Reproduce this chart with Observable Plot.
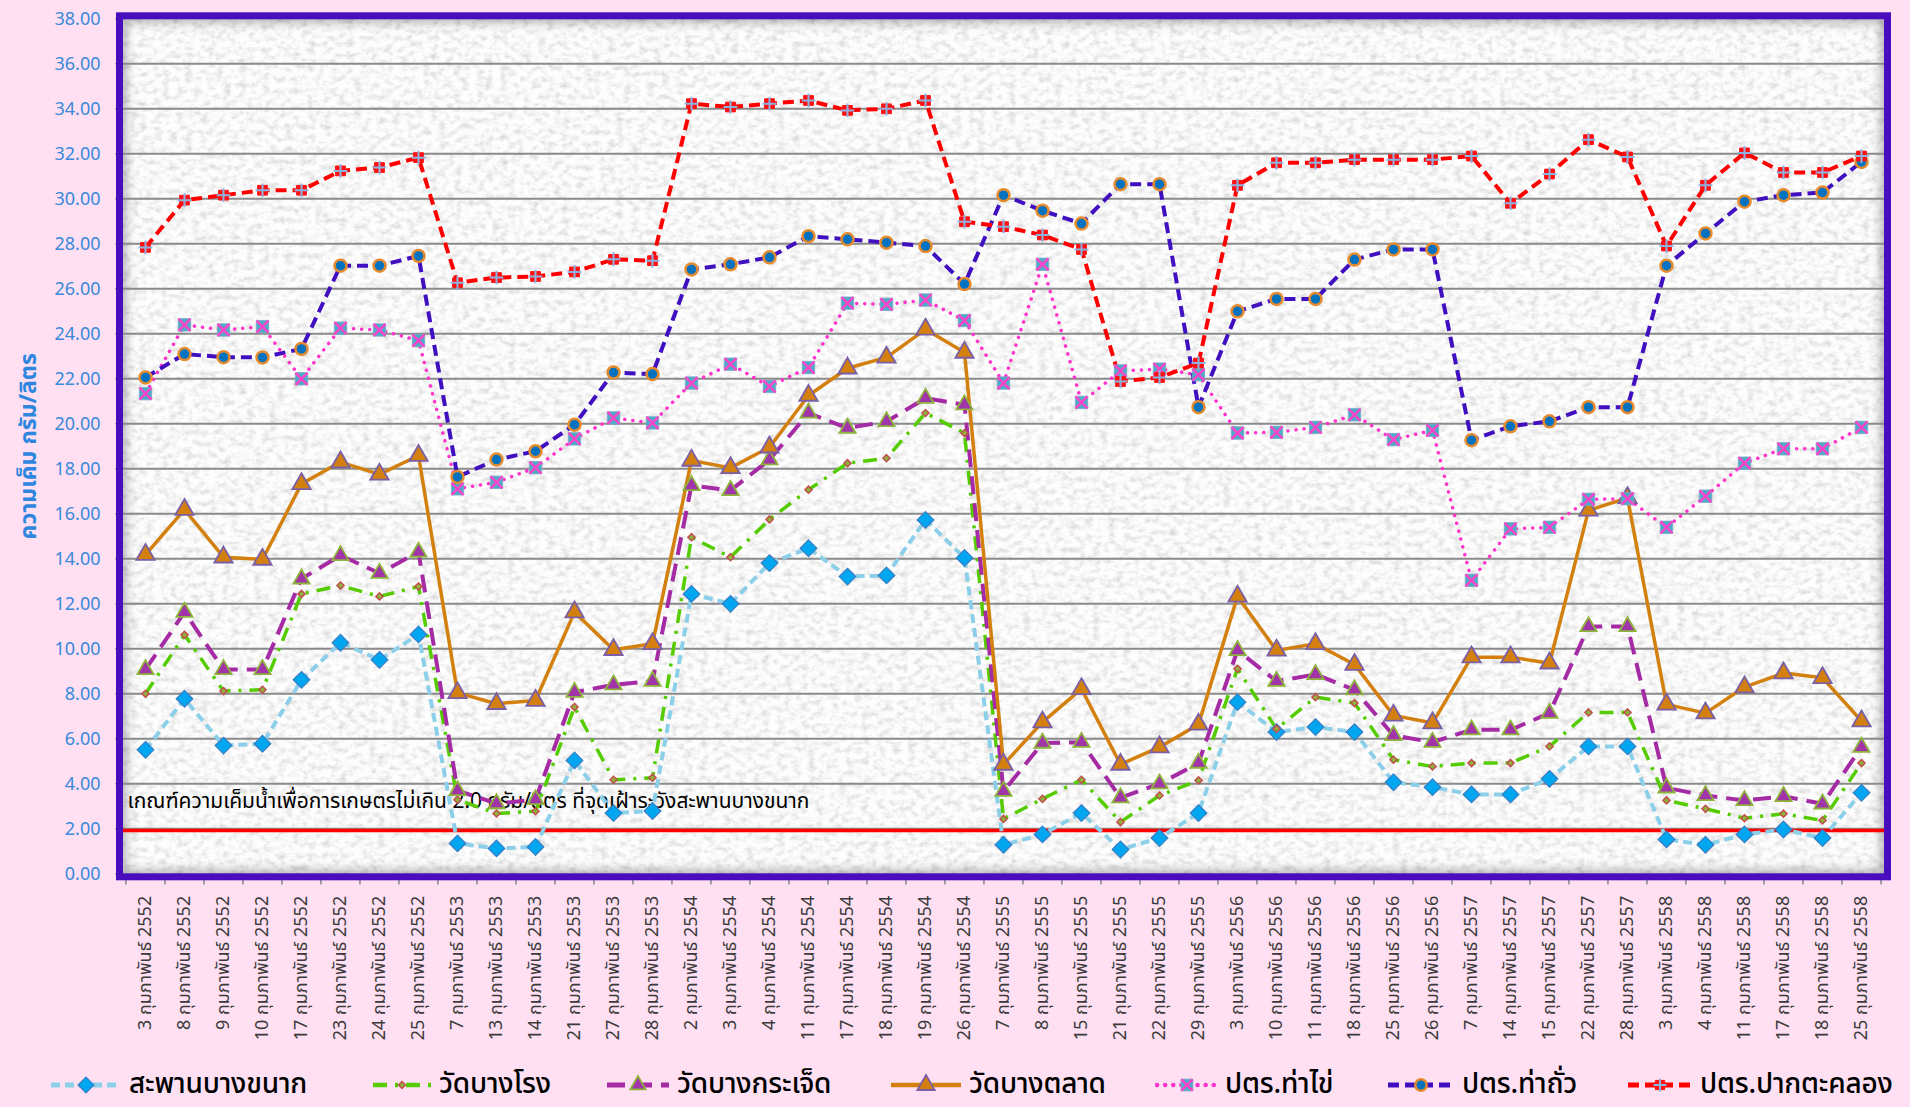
<!DOCTYPE html>
<html><head><meta charset="utf-8">
<script src="https://cdn.jsdelivr.net/npm/d3@7"></script>
<script src="https://cdn.jsdelivr.net/npm/@observablehq/plot@0.6"></script>
<style>
html,body{margin:0;padding:0;background:#FFE0F3;}
#chart{position:relative;width:1910px;height:1107px;overflow:hidden;background:#FFE0F3;}
#plot svg{display:block;}
#legend{position:absolute;left:0;top:1066px;width:1910px;height:38px;}
.item{position:absolute;top:0;height:38px;display:flex;align-items:center;white-space:nowrap;}
.item span{display:block;height:38px;line-height:38px;overflow:visible;font-family:"Noto Sans Thai","Noto Sans","DejaVu Sans",sans-serif;font-size:28px;font-weight:500;color:#000;margin-left:6px;letter-spacing:-0.2px;}
</style></head>
<body><div id="chart"><div id="plot"></div><div id="legend"></div></div>
<script>
const labels = ["3 กุมภาพันธ์ 2552","8 กุมภาพันธ์ 2552","9 กุมภาพันธ์ 2552","10 กุมภาพันธ์ 2552","17 กุมภาพันธ์ 2552","23 กุมภาพันธ์ 2552","24 กุมภาพันธ์ 2552","25 กุมภาพันธ์ 2552","7 กุมภาพันธ์ 2553","13 กุมภาพันธ์ 2553","14 กุมภาพันธ์ 2553","21 กุมภาพันธ์ 2553","27 กุมภาพันธ์ 2553","28 กุมภาพันธ์ 2553","2 กุมภาพันธ์ 2554","3 กุมภาพันธ์ 2554","4 กุมภาพันธ์ 2554","11 กุมภาพันธ์ 2554","17 กุมภาพันธ์ 2554","18 กุมภาพันธ์ 2554","19 กุมภาพันธ์ 2554","26 กุมภาพันธ์ 2554","7 กุมภาพันธ์ 2555","8 กุมภาพันธ์ 2555","15 กุมภาพันธ์ 2555","21 กุมภาพันธ์ 2555","22 กุมภาพันธ์ 2555","29 กุมภาพันธ์ 2555","3 กุมภาพันธ์ 2556","10 กุมภาพันธ์ 2556","11 กุมภาพันธ์ 2556","18 กุมภาพันธ์ 2556","25 กุมภาพันธ์ 2556","26 กุมภาพันธ์ 2556","7 กุมภาพันธ์ 2557","14 กุมภาพันธ์ 2557","15 กุมภาพันธ์ 2557","22 กุมภาพันธ์ 2557","28 กุมภาพันธ์ 2557","3 กุมภาพันธ์ 2558","4 กุมภาพันธ์ 2558","11 กุมภาพันธ์ 2558","17 กุมภาพันธ์ 2558","18 กุมภาพันธ์ 2558","25 กุมภาพันธ์ 2558"];

const seriesNames = ["สะพานบางขนาก","วัดบางโรง","วัดบางกระเจ็ด","วัดบางตลาด","ปตร.ท่าไข่","ปตร.ท่าถั่ว","ปตร.ปากตะคลอง"];

const sBangKhanak = [5.51,7.78,5.70,5.78,8.62,10.27,9.51,10.64,1.35,1.13,1.19,5.04,2.70,2.79,12.44,12.00,13.81,14.47,13.21,13.26,15.73,14.04,1.29,1.75,2.70,1.08,1.59,2.70,7.63,6.30,6.52,6.30,4.07,3.85,3.53,3.53,4.22,5.66,5.66,1.53,1.29,1.75,1.97,1.59,3.60];
const sWatBangRong = [8.00,10.62,8.12,8.18,12.44,12.81,12.33,12.77,3.29,2.68,2.78,7.41,4.18,4.27,14.96,14.07,15.75,17.07,18.25,18.47,20.48,19.59,2.44,3.33,4.18,2.30,3.48,4.15,9.11,6.44,7.85,7.59,5.07,4.77,4.92,4.92,5.66,7.17,7.17,3.26,2.89,2.47,2.67,2.37,4.92];
const sWatBangKrachet = [9.08,11.63,9.08,9.08,13.11,14.15,13.36,14.30,3.70,3.12,3.30,8.07,8.40,8.56,17.26,17.04,18.40,20.48,19.81,20.10,21.14,20.85,3.67,5.81,5.85,3.38,4.00,4.92,9.93,8.56,8.86,8.18,6.15,5.85,6.40,6.40,7.14,10.99,10.99,3.82,3.48,3.26,3.44,3.11,5.63];
const sWatBangTalat = [14.19,16.19,14.07,13.97,17.33,18.30,17.75,18.59,8.04,7.56,7.70,11.63,9.96,10.22,18.37,18.04,18.96,21.26,22.47,22.95,24.20,23.17,4.86,6.74,8.22,4.86,5.63,6.64,12.33,9.93,10.22,9.30,7.04,6.70,9.63,9.63,9.36,16.15,16.71,7.53,7.14,8.30,8.92,8.71,6.79];
const sThaKhai = [21.34,24.40,24.17,24.32,22.00,24.25,24.17,23.70,17.11,17.40,18.05,19.33,20.26,20.04,21.81,22.65,21.66,22.50,25.36,25.31,25.50,24.59,21.81,27.09,20.95,22.35,22.43,22.18,19.59,19.62,19.84,20.40,19.30,19.71,13.04,15.33,15.40,16.64,16.67,15.40,16.78,18.25,18.89,18.89,19.84];
const sThaThua = [22.06,23.10,22.96,22.95,23.33,27.03,27.03,27.46,17.64,18.41,18.78,19.96,22.28,22.21,26.86,27.09,27.40,28.34,28.20,28.05,27.90,26.21,30.16,29.47,28.90,30.65,30.65,20.74,25.00,25.55,25.55,27.30,27.75,27.75,19.27,19.89,20.11,20.74,20.74,27.03,28.46,29.87,30.16,30.28,31.64];
const sPakTaKhlong = [27.84,29.94,30.16,30.38,30.38,31.24,31.39,31.83,26.27,26.50,26.55,26.75,27.31,27.25,34.23,34.08,34.23,34.37,33.93,34.00,34.37,28.98,28.76,28.39,27.75,21.88,22.06,22.70,30.60,31.60,31.60,31.74,31.74,31.74,31.90,29.80,31.10,32.63,31.86,27.90,30.60,32.04,31.17,31.17,31.90];

const yTicks = [0,2,4,6,8,10,12,14,16,18,20,22,24,26,28,30,32,34,36,38];
const threshold = 1.93;
const yTitle = "ความเค็ม กรัม/ลิตร";
const note = "เกณฑ์ความเค็มน้ำเพื่อการเกษตรไม่เกิน 2.0 กรัม/ลิตร ที่จุดเฝ้าระวังสะพานบางขนาก";

const allValues = [sBangKhanak,sWatBangRong,sWatBangKrachet,sWatBangTalat,sThaKhai,sThaThua,sPakTaKhlong];
const thaiFont = '"Noto Sans Thai","Noto Sans","DejaVu Sans",sans-serif';

const styles = [
  {line:"#8CCFE8", w:4, dash:"9,5", cap:"butt", marks:[{symbol:"diamond2", r:7.5, fill:"#00A6F0", stroke:"#3B7DC4", sw:1.2}]},
  {line:"#55CC00", w:3.5, dash:"14,8,3,8", cap:"butt", marks:[{symbol:"diamond2", r:3.2, fill:"#8DB33A", stroke:"#C0504D", sw:1.5}]},
  {line:"#A52BA5", w:4, dash:"18,9", cap:"butt", marks:[{symbol:"triangle", r:6, fill:"#A034A8", stroke:"#8DB33A", sw:1.8}]},
  {line:"#D3800F", w:3.5, dash:null, cap:"butt", marks:[{symbol:"triangle", r:6.8, fill:"#D3800F", stroke:"#7A5FA6", sw:1.8}]},
  {line:"#FF33CC", w:3.5, dash:"0.1,8", cap:"round", marks:[{symbol:"square", r:7, fill:"#4BACC6", stroke:"#7BA7C8", sw:0.8},{symbol:"times", r:5.5, fill:"none", stroke:"#FF44CC", sw:2.5}]},
  {line:"#4010C0", w:4, dash:"11,6", cap:"butt", marks:[{symbol:"circle", r:6, fill:"#0072C0", stroke:"#E68A2E", sw:2.5}]},
  {line:"#FF0000", w:4, dash:"11,6", cap:"butt", marks:[{symbol:"square", r:5.5, fill:"#FF1010", stroke:"#FF1010", sw:1},{symbol:"plus", r:4.5, fill:"none", stroke:"#8DB3E2", sw:2}]}
];

const rows = [];
allValues.forEach((vals, k) => vals.forEach((v, i) => rows.push({date: labels[i], value: v, series: seriesNames[k]})));

const marks = [
  Plot.frame({fill:"#fbfbfb", className:"bgframe"}),
  Plot.ruleY(yTicks.filter(t => t > 0 && t < 38), {stroke:"#8a8a8a", strokeWidth:2}),
  Plot.ruleY([threshold], {stroke:"#FF0000", strokeWidth:3.5, insetLeft:-2, insetRight:-6}),
  Plot.text([note], {frameAnchor:"bottom-left", dx:5, dy:-66, text:d=>d, textAnchor:"start", fill:"#000", fontSize:21, fontFamily:thaiFont}),
  Plot.axisY({ticks: yTicks, tickFormat: d3.format(".2f"), tickSize: 7, tickPadding: 15, stroke:"#888", fill:"#3A88DA", fontSize:18, label: yTitle, labelAnchor:"center", labelArrow:"none", labelOffset:103}),
  Plot.axisX({tickRotate:-90, tickSize:0, tickPadding:22, fill:"#3b3b3b", fontSize:18, fontFamily:thaiFont, label:null}),
  Plot.ruleX(labels, {x:d=>d, y1:-0.12, y2:-0.5, dx:-19.58, stroke:"#888", strokeWidth:1.5}),
  Plot.ruleX(labels.slice(-1), {x:d=>d, y1:-0.12, y2:-0.5, dx:19.58, stroke:"#888", strokeWidth:1.5})
];

seriesNames.forEach((name, k) => {
  const st = styles[k];
  const data = rows.filter(r => r.series === name);
  marks.push(Plot.line(data, {x:"date", y:"value", stroke:st.line, strokeWidth:st.w, strokeDasharray:st.dash || undefined, strokeLinecap:st.cap, strokeLinejoin:"round"}));
});
seriesNames.forEach((name, k) => {
  const st = styles[k];
  const data = rows.filter(r => r.series === name);
  st.marks.forEach(m => marks.push(Plot.dot(data, {x:"date", y:"value", symbol:m.symbol, r:m.r, fill:m.fill, stroke:m.stroke, strokeWidth:m.sw})));
});
marks.push(Plot.frame({stroke:"#4A0DBE", strokeWidth:7, inset:-3}));

const plot = Plot.plot({
  width:1910, height:1050,
  marginLeft:122, marginRight:26, marginTop:18.3, marginBottom:176.7,
  style:{background:"transparent", fontFamily:thaiFont},
  x:{type:"point", domain:labels, padding:0.5},
  y:{domain:[0,38]},
  marks
});
document.getElementById("plot").appendChild(plot);

// granite texture + inner shadow for the plot background
const svg = d3.select(plot);
const defs = svg.insert("defs", ":first-child");
const f = defs.append("filter").attr("id","granite").attr("x","0").attr("y","0").attr("width","100%").attr("height","100%");
f.append("feTurbulence").attr("type","fractalNoise").attr("baseFrequency","0.13 0.17").attr("numOctaves",3).attr("seed",11).attr("result","t");
f.append("feColorMatrix").attr("in","t").attr("type","matrix").attr("values","0 0 0 0 0.6  0 0 0 0 0.6  0 0 0 0 0.6  1.6 0 0 0 -0.68").attr("result","speck");
f.append("feFlood").attr("flood-color","#fdfdfd").attr("result","w");
f.append("feComposite").attr("in","speck").attr("in2","w").attr("operator","over").attr("result","tex");
f.append("feFlood").attr("flood-color","#000").attr("flood-opacity",0.5).attr("result","black");
f.append("feMorphology").attr("in","SourceAlpha").attr("operator","erode").attr("radius",5).attr("result","er");
f.append("feGaussianBlur").attr("in","er").attr("stdDeviation",5).attr("result","bl");
f.append("feComposite").attr("in","black").attr("in2","bl").attr("operator","out").attr("result","shadow");
f.append("feMerge").call(m => { m.append("feMergeNode").attr("in","tex"); m.append("feMergeNode").attr("in","shadow"); });
svg.selectAll(".bgframe rect, rect.bgframe, .bgframe").filter(function(){return this.tagName==="rect";}).attr("filter","url(#granite)");
svg.selectAll("[aria-label='y-axis label'] text, [aria-label='y-axis label']").attr("fill","#2E86DE").style("font-size","23px").style("font-weight","bold");

// legend
const legend = d3.select("#legend");
const legendPos = [49, 371, 605, 889, 1155, 1386, 1626];
const swW = [74, 62, 66, 74, 64, 70, 68];
seriesNames.forEach((name, k) => {
  const st = styles[k];
  const it = legend.append("div").attr("class","item").style("left", legendPos[k]+"px");
  const s = it.append("svg").attr("width", swW[k]).attr("height", 24);
  s.append("line").attr("x1",2).attr("x2",swW[k]-2).attr("y1",12).attr("y2",12)
    .attr("stroke",st.line).attr("stroke-width",st.w+1).attr("stroke-dasharray",st.dash).attr("stroke-linecap",st.cap);
  st.marks.forEach(m => {
    const sym = {diamond2:d3.symbolDiamond2, triangle:d3.symbolTriangle, square:d3.symbolSquare, circle:d3.symbolCircle, times:d3.symbolTimes, plus:d3.symbolPlus}[m.symbol];
    s.append("path").attr("transform",`translate(${swW[k]/2},12)`).attr("d", d3.symbol(sym, Math.PI*m.r*m.r*0.9)())
      .attr("fill",m.fill).attr("stroke",m.stroke).attr("stroke-width",m.sw);
  });
  it.append("span").text(name);
});
</script></body></html>
